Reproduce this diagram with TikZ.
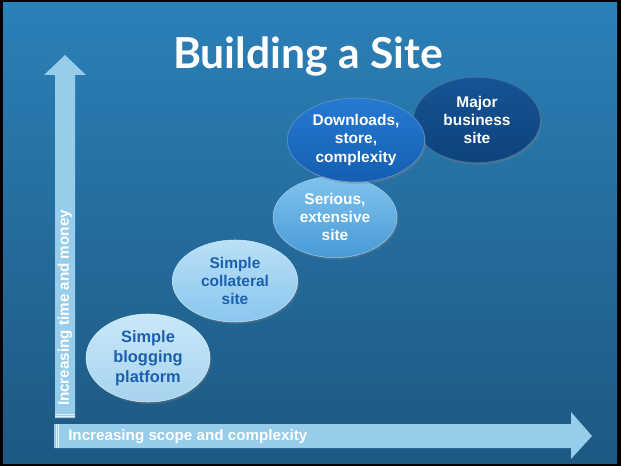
\documentclass[tikz,border=0pt]{standalone}
\usepackage{fontspec}
\setmainfont{Liberation Sans}
\newfontfamily\titlefont{Lato}
\usetikzlibrary{shapes,shadows}
\definecolor{slideTop}  {RGB}{ 43, 128, 184}
\definecolor{slideBot}  {RGB}{ 29,  88, 129}
\definecolor{axisBlue}  {RGB}{151, 205, 234}
\definecolor{txtBlue}   {RGB}{ 27,  95, 174}
\definecolor{blogTop}   {RGB}{200, 232, 248}
\definecolor{blogBot}   {RGB}{166, 211, 239}
\definecolor{collTop}   {RGB}{186, 224, 246}
\definecolor{collBot}   {RGB}{137, 198, 238}
\definecolor{serTop}    {RGB}{128, 195, 238}
\definecolor{serBot}    {RGB}{ 72, 154, 214}
\definecolor{dlTop}     {RGB}{ 38, 122, 210}
\definecolor{dlBot}     {RGB}{ 20,  94, 178}
\definecolor{majTop}    {RGB}{ 22,  84, 148}
\definecolor{majBot}    {RGB}{ 13,  66, 124}

\begin{document}
\begin{tikzpicture}[x=0.75pt,y=-0.75pt,
    bubble/.style={ellipse,inner sep=0pt,align=center,
          font=\bfseries\fontsize{11.6}{13.8}\selectfont,
          drop shadow={shadow xshift=1pt,shadow yshift=-1.5pt,opacity=0.35}},
    axislabel/.style={font=\bfseries\fontsize{11.4}{13}\selectfont,white,inner sep=0pt}]
  \useasboundingbox (0,0) rectangle (621,466);

  % ── slide ────────────────────────────────────────────
  \fill[black] (0,0) rectangle (621,466);
  \shade[top color=slideTop,bottom color=slideBot] (3,3) rectangle (617,463);
  \node[font=\titlefont\bfseries\fontsize{32}{34}\selectfont,white,anchor=base]
        (title) at (308,69){Building a Site};

  % ── axes ─────────────────────────────────────────────
  \fill[axisBlue] (55,418) -- (55,75) -- (44,75) -- (65,55) -- (86,75)
        -- (75,75) -- (75,418) -- cycle;
  \fill[axisBlue] (54,424) -- (571,424) -- (571,412) -- (592,436)
        -- (571,459) -- (571,448) -- (54,448) -- cycle;
  \foreach \y in {414,416}{\draw[white!70!axisBlue,line width=0.4pt](55,\y)--(75,\y);}
  \foreach \x in {56,58}{\draw[white!70!axisBlue,line width=0.4pt](\x,424)--(\x,448);}
  \node[axislabel,rotate=90] (ylab) at (65,308){Increasing time and money};
  \node[axislabel,anchor=west] (xlab) at (68,437){Increasing scope and complexity};

  % ── sites ────────────────────────────────────────────
  \node[bubble,minimum width=94pt,minimum height=61.5pt,
        top color=collTop,bottom color=collBot,draw=white!55!collBot,
        text=txtBlue] (collat) at (235,281){Simple\\collateral\\site};
  \node[bubble,minimum width=93pt,minimum height=66pt,
        top color=blogTop,bottom color=blogBot,draw=white!55!blogBot,
        text=txtBlue,font=\bfseries\fontsize{12.3}{15}\selectfont]
        (blog) at (148,358){Simple\\blogging\\platform};
  \node[bubble,minimum width=93pt,minimum height=61pt,
        top color=serTop,bottom color=serBot,draw=white!45!serBot,
        text=white] (serious) at (335,217){Serious,\\extensive\\site};
  \node[bubble,minimum width=95pt,minimum height=64pt,
        top color=majTop,bottom color=majBot,draw=white!25!majBot,
        text=white] (major) at (477,120){Major\\business\\site};
  \node[bubble,minimum width=103pt,minimum height=63pt,
        top color=dlTop,bottom color=dlBot,draw=white!35!dlBot,
        text=white] (downl) at (356,140){Downloads,\\store,\\complexity};

\end{tikzpicture}
\end{document}
